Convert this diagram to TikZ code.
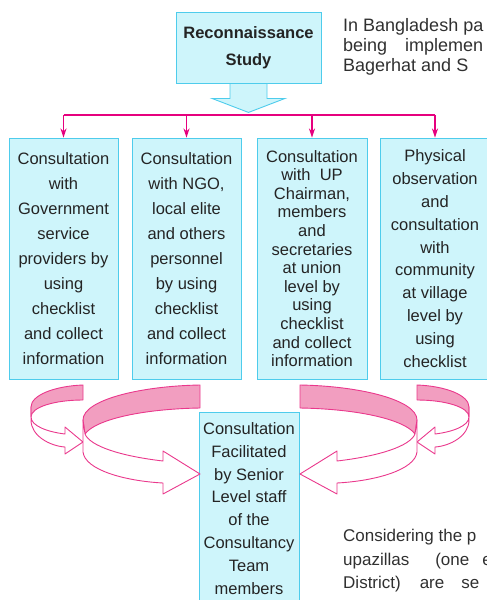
\documentclass[tikz,border=0pt]{standalone}
\usepackage{fontspec}
\setmainfont{Liberation Sans}
\usetikzlibrary{arrows.meta, positioning}

\definecolor{boxfill}{RGB}{206,245,251}
\definecolor{boxline}{RGB}{78,204,236}
\definecolor{busmag}{RGB}{230,0,126}
\definecolor{ribpink}{RGB}{242,158,192}
\definecolor{ribline}{RGB}{234,56,140}
\definecolor{boxtxt}{RGB}{36,36,36}
\definecolor{paratxt}{RGB}{48,48,48}

\tikzset{
  infobox/.style={draw=boxline, fill=boxfill, line width=0.9, align=center, inner sep=0pt, text=boxtxt, font=\fontsize{16.5}{25}\selectfont},
  busline/.style={draw=busmag, line width=2.6},
  busarrow/.style={draw=busmag, line width=1.8, -{Stealth[length=9pt,width=6pt]}},
  blockarr/.style={draw=boxline, fill=boxfill, line width=0.9, line join=miter},
  ribback/.style={draw=ribline, fill=ribpink, line width=0.9, line join=round},
  ribfront/.style={draw=ribline, fill=white, line width=0.9, line join=round},
  paratext/.style={anchor=base west, inner sep=0pt, text=paratxt, font=\fontsize{18}{20}\selectfont},
}

\begin{document}
\begin{tikzpicture}[x=1pt,y=1pt,yscale=-1,xscale=1]
\useasboundingbox (0,0) rectangle (487,600);
\clip (0,0) rectangle (487,600);

%Shape: Rectangle [top]
\node [infobox, font=\bfseries\fontsize{16.5}{27}\selectfont, minimum width=145, minimum height=71] (recon) at (248.5,47.5) {Reconnaissance\\Study};
%Shape: Block arrow
\draw [blockarr] (recon.south) ++(-18.5,0) -- ++(0,15) -- ++(-18,0) -- ++(36.5,14) -- ++(36.5,-14) -- ++(-18,0) -- ++(0,-15) -- cycle ;

%Shape: Rectangles [row of four]
\node [infobox, minimum width=109, minimum height=241] (govt) at (63.5,258.5) {Consultation\\with\\Government\\service\\providers by\\using\\checklist\\and collect\\information};
\node [infobox, minimum width=109, minimum height=241] (ngo) at (186.5,258.5) {Consultation\\with NGO,\\local elite\\and others\\personnel\\by using\\checklist\\and collect\\information};
\node [infobox, font=\fontsize{16.5}{18.6}\selectfont, minimum width=110, minimum height=241] (upc) at (312,258.5) {Consultation\\with\ \ UP\\Chairman,\\members\\and\\secretaries\\at union\\level by\\using\\checklist\\and collect\\information};
\node [infobox, font=\fontsize{16.5}{22.8}\selectfont, minimum width=110, minimum height=241] (village) at (435,258.5) {Physical\\observation\\and\\consultation\\with\\community\\at village\\level by\\using\\checklist};

%Straight Lines [bus]
\coordinate (busW) at (63.5,115);
\coordinate (busE) at (435,115);
\draw [busline] (busW) -- (busE) ;
\foreach \b in {govt,ngo,upc,village}
  \draw [busarrow] (\b.north |- busW) -- (\b.north) ;

%Shape: Rectangle [bottom]
\node [infobox, font=\fontsize{16.5}{22.8}\selectfont, anchor=north, minimum width=100, minimum height=192] (team) at (249,412) {Consultation\\Facilitated\\by Senior\\Level staff\\of the\\Consultancy\\Team\\members};

%Curved Arrows [left, mirrored to the right]
\foreach \s/\dx in {1/0,-1/500}{
\begin{scope}[shift={(\dx,0)}, xscale=\s]
% small one
\draw [ribback] (83,385) .. controls (55,386) and (31,395) .. (31,407) -- (31,417) .. controls (31,407) and (55,400) .. (83,400) -- cycle ;
\draw [ribfront] (31,407) -- (31,420) .. controls (31,436) and (50,446) .. (65,447) -- (65,454) -- (83,442) -- (65,427) -- (65,434) .. controls (48,432) and (31,426) .. (31,417) -- cycle ;
% big one
\draw [ribback] (200,385) .. controls (140,386) and (83,400) .. (83,420) -- (85,434) .. controls (95,420) and (140,409) .. (200,408) -- cycle ;
\draw [ribfront] (83,420) -- (83,452) .. controls (85,470) and (125,481) .. (163,483) -- (163,494) -- (200,474) -- (163,451) -- (163,461) .. controls (120,456) and (90,446) .. (85,434) -- cycle ;
\end{scope}
}

% Text Node
\node [paratext] (introA) at (343,31.7) {In Bangladesh pa};
% Text Node
\node [paratext] (introB) at (343,51.7) {being\hspace{18pt}implemen};
% Text Node
\node [paratext] (introC) at (343,71.7) {Bagerhat and S};
% Text Node
\node [paratext, font=\fontsize{17}{23}\selectfont] (nextA) at (343,541.7) {Considering the p};
% Text Node
\node [paratext, font=\fontsize{17}{23}\selectfont] (nextB) at (343,565) {upazillas\hspace{26pt}(one\hspace{13pt}e};
% Text Node
\node [paratext, font=\fontsize{17}{23}\selectfont] (nextC) at (343,588) {District)\hspace{19pt}are\hspace{17pt}se};

\end{tikzpicture}
\end{document}
